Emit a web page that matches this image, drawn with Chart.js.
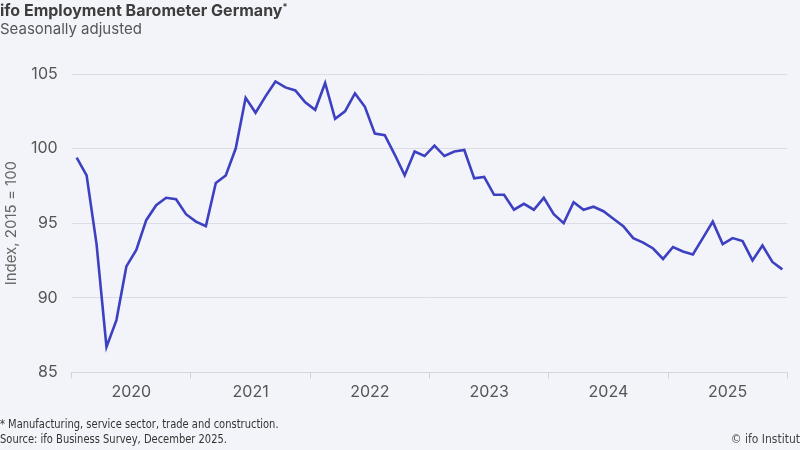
<!DOCTYPE html>
<html>
<head>
<meta charset="utf-8">
<script src="https://cdn.jsdelivr.net/npm/chart.js@4"></script>
<style>
  html, body { margin: 0; padding: 0; background: #f3f4f9; }
  #wrap { position: relative; width: 800px; height: 450px; overflow: hidden; font-family: Inter, "Noto Sans", sans-serif; }
  #chart { position: absolute; left: 0; top: 0; }
  .title { position: absolute; left: 0; top: 0; font-size: 16px; font-weight: 700; color: #3d3d3d; }
  .title sup { font-size: 9px; font-weight: 700; }
  .sub { position: absolute; left: 0; top: 19px; font-size: 15px; color: #555; }
  .foot { position: absolute; left: 0; font-family: "Liberation Sans Narrow", "DejaVu Sans Condensed", sans-serif; font-size: 12px; color: #333; transform: scaleX(0.92); transform-origin: left top; }
  .copy { position: absolute; right: 0; top: 432px; font-family: "Liberation Sans Narrow", "DejaVu Sans Condensed", sans-serif; font-size: 12px; color: #444; }
</style>
</head>
<body>
<div id="wrap">
  <canvas id="chart" width="800" height="450"></canvas>
  <div class="title">ifo Employment Barometer Germany<sup>*</sup></div>
  <div class="sub">Seasonally adjusted</div>
  <div class="foot" style="top:417px">* Manufacturing, service sector, trade and construction.</div>
  <div class="foot" style="top:432px">Source: ifo Business Survey, December 2025.</div>
  <div class="copy">© ifo Institut</div>
</div>
<script>
// jahre auf der x-achse
var years = ['2020', '2021', '2022', '2023', '2024', '2025'];
var yTicks = [85, 90, 95, 100, 105];

// monatswerte Jan 2020 - Dez 2025
var values2020 = [99.4, 98.2, 93.6, 86.7, 88.5, 92.1, 93.2, 95.2, 96.2, 96.7, 96.6, 95.6];
var values2021 = [95.1, 94.8, 97.7, 98.2, 100.0, 103.4, 102.4, 103.5, 104.5, 104.1, 103.9, 103.1];
var values2022 = [102.6, 104.4, 102.0, 102.5, 103.7, 102.8, 101.0, 100.9, 99.6, 98.2, 99.8, 99.5];
var values2023 = [100.2, 99.5, 99.8, 99.9, 98.0, 98.1, 96.9, 96.9, 95.9, 96.3, 95.9, 96.7];
var values2024 = [95.6, 95.0, 96.4, 95.9, 96.1, 95.8, 95.3, 94.8, 94.0, 93.7, 93.3, 92.6];
var values2025 = [93.4, 93.1, 92.9, 94.0, 95.1, 93.6, 94.0, 93.8, 92.5, 93.5, 92.4, 91.9];

var values = [].concat(values2020, values2021, values2022, values2023, values2024, values2025);

// punkte in monatsmitte
var points = values.map(function (v, i) {
    return { x: i + 0.5, y: v };
});

var ctx = document.getElementById('chart').getContext('2d');
var chart = new Chart(ctx, {
    type: 'line',
    data: {
        datasets: [{
            data: points,
            borderColor: '#3d40c0',
            borderWidth: 2.6,
            pointRadius: 0,
            tension: 0,
            fill: false
        }]
    },
    options: {
        responsive: false,
        animation: false,
        layout: { padding: { top: 74, right: 12.7, left: 0, bottom: 0 } },
        plugins: { legend: { display: false }, tooltip: { enabled: false } },
        scales: {
            x: {
                type: 'linear',
                min: 0,
                max: years.length * 12,
                afterBuildTicks: function (scale) {
                    var t = [];
                    for (var i = 0; i <= years.length * 12; i += 6) t.push({ value: i });
                    scale.ticks = t;
                },
                afterFit: function (scale) { scale.height = 77.7; },
                border: { display: true, color: '#d6d7de', width: 1 },
                grid: {
                    drawOnChartArea: false,
                    tickLength: 6,
                    tickColor: function (c) {
                        return c.tick && c.tick.value % 12 === 0 ? '#d0d1d8' : 'rgba(0,0,0,0)';
                    }
                },
                ticks: {
                    autoSkip: false,
                    maxRotation: 0,
                    padding: 4,
                    color: '#555',
                    font: { family: 'Inter', size: 16 },
                    callback: function (v) {
                        return v % 12 === 6 ? years[(v - 6) / 12] : '';
                    }
                }
            },
            y: {
                min: 85,
                max: 105,
                afterBuildTicks: function (scale) {
                    scale.ticks = yTicks.map(function (v) { return { value: v }; });
                },
                afterFit: function (scale) { scale.width = 71.7; },
                border: { display: false },
                grid: { color: '#dcdde3', lineWidth: 1, drawTicks: false },
                ticks: {
                    padding: 14,
                    color: '#555',
                    font: { family: 'Inter', size: 16 }
                },
                title: {
                    display: true,
                    text: 'Index, 2015 = 100',
                    color: '#666',
                    font: { family: 'Inter', size: 15 },
                    padding: { top: 2, bottom: 0 }
                }
            }
        }
    }
});
</script>
</body>
</html>
